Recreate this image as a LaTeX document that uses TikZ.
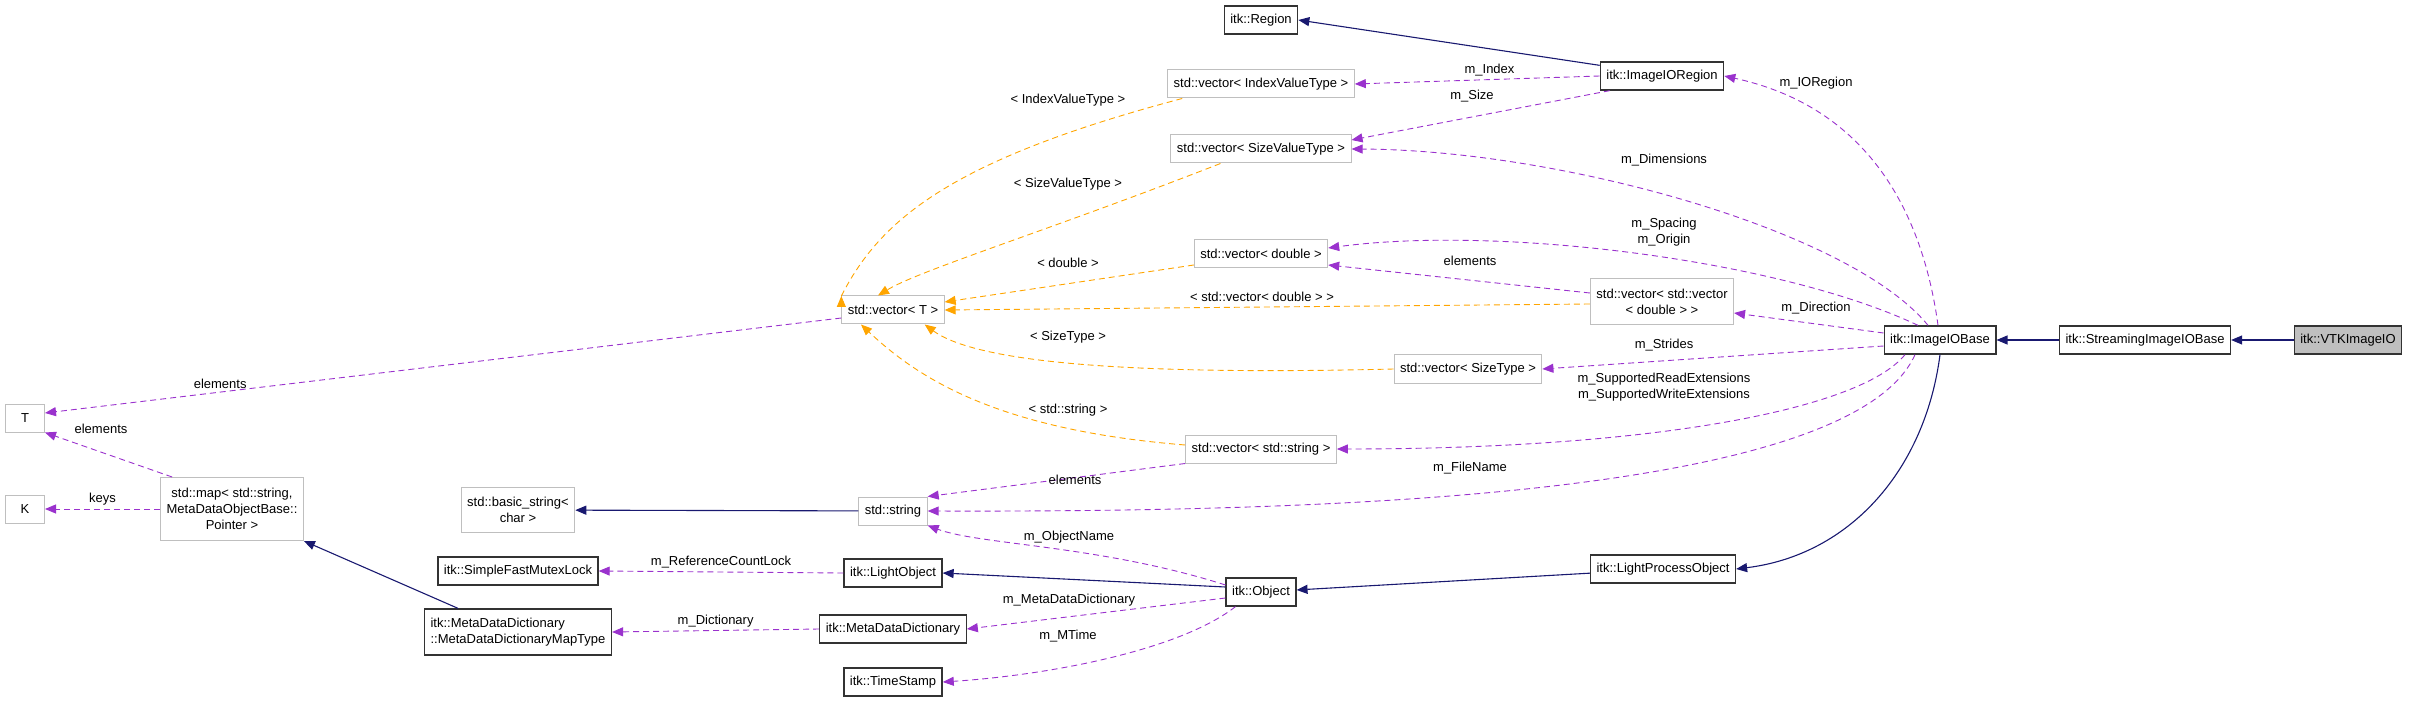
\documentclass[tikz,border=0pt]{standalone}
\usepackage{fontspec}
\setmainfont{Liberation Sans}
\usetikzlibrary{arrows.meta}
\definecolor{pur}{HTML}{9A32CD}
\definecolor{org}{HTML}{FFA500}
\definecolor{nav}{HTML}{191970}
\begin{document}
\begin{tikzpicture}[x=1pt,y=-1pt,font=\fontsize{13}{16}\selectfont,
  box/.style={draw=black!80,line width=1.3pt,minimum height=28pt,inner xsep=6pt,align=center},
  gbox/.style={draw=black!25,line width=1pt,minimum height=28pt,inner xsep=6pt,align=center},
  pe/.style={draw=pur,line width=0.9pt,dash pattern=on 6pt off 4pt,-{Triangle[length=11pt,width=9pt]}},
  oe/.style={draw=org,line width=0.9pt,dash pattern=on 6pt off 4pt,-{Triangle[length=11pt,width=9pt]}},
  ne/.style={draw=nav,line width=1.1pt,-{Triangle[length=11pt,width=9pt]}},
  lab/.style={inner sep=1pt,align=center}]
\useasboundingbox (0,0) rectangle (2413,703);
% nodes
\node[box] (region) at (1261,20) {itk::Region};
\node[box] (ioregion) at (1662,76) {itk::ImageIORegion};
\node[gbox] (vidx) at (1261,84) {std::vector\textless{} IndexValueType \textgreater};
\node[gbox] (vsize) at (1261,149) {std::vector\textless{} SizeValueType \textgreater};
\node[gbox] (vdbl) at (1261,254) {std::vector\textless{} double \textgreater};
\node[gbox,minimum height=46pt] (vvec) at (1662,302) {std::vector\textless{} std::vector\\\textless{} double \textgreater{} \textgreater};
\node[gbox] (vT) at (893,310) {std::vector\textless{} T \textgreater};
\node[gbox] (vst) at (1468,369) {std::vector\textless{} SizeType \textgreater};
\node[box] (iobase) at (1940,340) {itk::ImageIOBase};
\node[box] (stream) at (2145,340) {itk::StreamingImageIOBase};
\node[box,fill=black!25] (vtk) at (2348,340) {itk::VTKImageIO};
\node[gbox] (vstr) at (1261,449) {std::vector\textless{} std::string \textgreater};
\node[gbox] (str) at (893,511) {std::string};
\node[gbox,minimum height=45pt] (bstr) at (518,510) {std::basic\_string\textless\\char \textgreater};
\node[gbox,minimum width=39pt] (T) at (25,418) {T};
\node[gbox,minimum width=39pt] (K) at (25,509) {K};
\node[gbox,minimum height=63pt] (map) at (232,509) {std::map\textless{} std::string,\\MetaDataObjectBase::\\Pointer \textgreater};
\node[box] (mutex) at (518,571) {itk::SimpleFastMutexLock};
\node[box] (lobj) at (893,573) {itk::LightObject};
\node[box] (obj) at (1261,592) {itk::Object};
\node[box] (lpo) at (1663,569) {itk::LightProcessObject};
\node[box,minimum height=46pt,align=left] (maptype) at (518,632) {itk::MetaDataDictionary\\::MetaDataDictionaryMapType};
\node[box] (mdd) at (893,629) {itk::MetaDataDictionary};
\node[box] (ts) at (893,682) {itk::TimeStamp};
% navy inheritance
\draw[ne] (ioregion.north west) ++(0,4) -- (region.east);
\draw[ne] (stream) -- (iobase);
\draw[ne] (vtk) -- (stream);
\draw[ne] (iobase.south) .. controls (1925,470) and (1850,555) .. (lpo.east);
\draw[ne] (lpo) -- (obj);
\draw[ne] (obj.west) ++(0,-5) -- (lobj.east);
\draw[ne] (str) -- (bstr);
\draw[ne] (maptype.north) ++(-60,0) -- (map.south east) ;
% purple members
\draw[pe] (ioregion.west) -- node[lab,above=2pt,pos=0.45]{m\_Index} (vidx.east);
\draw[pe] (ioregion.south west) ++(10,0) -- (vsize.east |- 0,140);
\node[lab] at (1472,96) {m\_Size};
\draw[pe] (iobase.north) ++(-2,0) .. controls (1925,230) and (1880,110) .. (ioregion.east);
\node[lab] at (1816,83) {m\_IORegion};
\draw[pe] (iobase.north) ++(-12,0) .. controls (1850,230) and (1560,150) .. (vsize.east);
\node[lab] at (1664,160) {m\_Dimensions};
\draw[pe] (iobase.north) ++(-22,0) .. controls (1780,260) and (1500,225) .. (vdbl.east |- 0,248);
\node[lab] at (1664,232) {m\_Spacing\\m\_Origin};
\draw[pe] (vvec.west |- 0,293) -- (vdbl.east |- 0,265);
\node[lab] at (1470,261) {elements};
\draw[pe] (iobase.west |- 0,333) -- (vvec.east |- 0,313);
\node[lab] at (1816,308) {m\_Direction};
\draw[pe] (iobase.west |- 0,346) -- (vst.east);
\node[lab] at (1664,345) {m\_Strides};
\draw[pe] (iobase.south) ++(-35,0) .. controls (1860,410) and (1650,449) .. (vstr.east);
\node[lab] at (1664,387) {m\_SupportedReadExtensions\\m\_SupportedWriteExtensions};
\draw[pe] (iobase.south) ++(-25,0) .. controls (1850,500) and (1300,512) .. (str.east);
\node[lab] at (1470,468) {m\_FileName};
\draw[pe] (vstr.south west) -- (str.north east);
\node[lab] at (1075,480) {elements};
\draw[pe] (obj.west |- 0,585) .. controls (1100,545) and (980,545) .. (str.south east);
\node[lab] at (1069,537) {m\_ObjectName};
\draw[pe] (lobj.west) -- node[lab,above=2pt]{m\_ReferenceCountLock} (mutex.east);
\draw[pe] (obj.west |- 0,598) -- (mdd.east);
\node[lab] at (1069,600) {m\_MetaDataDictionary};
\draw[pe] (obj.south west) ++(10,0) .. controls (1180,650) and (1050,675) .. (ts.east);
\node[lab] at (1068,636) {m\_MTime};
\draw[pe] (mdd.west) -- node[lab,above=2pt]{m\_Dictionary} (maptype.east);
\draw[pe] (vT.west |- 0,318) -- node[lab,above=2pt,pos=0.78]{elements} (T.east |- 0,413);
\draw[pe] (map.north west) ++(12,0) -- (T.south east);
\node[lab] at (101,429) {elements};
\draw[pe] (map.west) -- node[lab,above=2pt]{keys} (K.east);
% orange template
\draw[oe] (vidx.south west) ++(15,0) .. controls (950,160) and (880,220) .. (vT.north west |- 0,296) ++(0,0);
\node[lab] at (1068,100) {\textless{} IndexValueType \textgreater};
\draw[oe] (vsize.south west) ++(50,0) .. controls (1050,230) and (920,270) .. ([xshift=-15pt]vT.north);
\node[lab] at (1068,184) {\textless{} SizeValueType \textgreater};
\draw[oe] (vdbl.west |- 0,265) -- (vT.east |- 0,302);
\node[lab] at (1068,263) {\textless{} double \textgreater};
\draw[oe] (vvec.west |- 0,304) -- (vT.east |- 0,310);
\node[lab] at (1262,297) {\textless{} std::vector\textless{} double \textgreater{} \textgreater};
\draw[oe] (vst.west) .. controls (1150,375) and (980,365) .. ([xshift=-20pt]vT.south east);
\node[lab] at (1068,337) {\textless{} SizeType \textgreater};
\draw[oe] (vstr.west |- 0,445) .. controls (1000,430) and (920,380) .. ([xshift=-32pt]vT.south);
\node[lab] at (1068,410) {\textless{} std::string \textgreater};
\end{tikzpicture}
\end{document}
